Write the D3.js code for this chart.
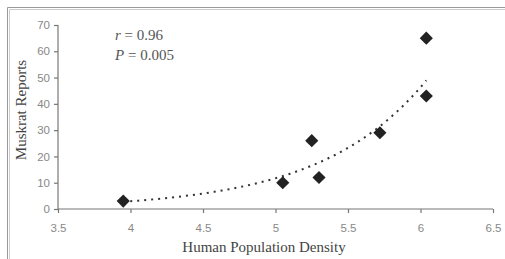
<!DOCTYPE html>
<html>
<head>
<meta charset="utf-8">
<script src="https://cdn.jsdelivr.net/npm/d3@7"></script>
<style>
  body { margin: 0; background: #fff; }
  svg { display: block; }
</style>
</head>
<body>
<div id="chart"></div>
<script>
// data
var density = [3.95, 5.05, 5.25, 5.3, 5.72, 6.04, 6.04];
var reports = [3, 10, 26, 12, 29, 65, 43];
var xTicks = [3.5, 4, 4.5, 5, 5.5, 6, 6.5];
var yTicks = [0, 10, 20, 30, 40, 50, 60, 70];

function init() {
    var w = 505;
    var h = 259;

    var svg = d3.select("#chart")
        .append("svg")
        .attr("width", w)
        .attr("height", h);

    // outer frame (double grey line on top and left)
    svg.append("path")
        .attr("d", "M7.5," + h + "V7.5H" + w)
        .attr("fill", "none")
        .attr("stroke", "#999");
    svg.append("path")
        .attr("d", "M9.5," + h + "V9.5H" + w)
        .attr("fill", "none")
        .attr("stroke", "#ccc");

    var xScale = d3.scaleLinear().domain([3.5, 6.5]).range([58, 493]);
    var yScale = d3.scaleLinear().domain([0, 70]).range([209, 25]);

    var data = density.map(function(d, i) { return { x: d, y: reports[i] }; });

    // axes
    var xAxis = d3.axisBottom(xScale).tickValues(xTicks).tickSize(4).tickFormat(d3.format(""));
    var gx = svg.append("g")
        .attr("transform", "translate(0," + yScale(0) + ")")
        .call(xAxis);

    var yAxis = d3.axisLeft(yScale).tickValues(yTicks).tickSize(4);
    var gy = svg.append("g")
        .attr("transform", "translate(" + xScale(3.5) + ",0)")
        .call(yAxis);

    [gx, gy].forEach(function(g) {
        g.selectAll("path, line").attr("stroke", "#777").attr("stroke-width", 1.2);
        g.selectAll("text")
            .attr("fill", "#888")
            .style("font-family", "Liberation Sans, Arial, sans-serif")
            .style("font-size", "11.5px");
    });
    gx.select(".domain").attr("d", "M" + xScale(3.5) + ",0H" + xScale(6.5));
    gx.selectAll("text").attr("dy", "1.4em");
    gy.select(".domain").attr("d", "M0," + yScale(0) + "V" + yScale(70));
    gy.selectAll("text").attr("x", -8);

    // exponential trendline (least squares on ln y, like Excel)
    var mx = d3.mean(density);
    var my = d3.mean(reports, function(d) { return Math.log(d); });
    var sxy = d3.sum(data, function(d) { return (d.x - mx) * (Math.log(d.y) - my); });
    var sxx = d3.sum(data, function(d) { return (d.x - mx) * (d.x - mx); });
    var b = sxy / sxx;
    var a = my - b * mx;
    var fit = d3.range(0, 41).map(function(i) {
        var x = d3.min(density) + (d3.max(density) - d3.min(density)) * i / 40;
        return { x: x, y: Math.exp(a + b * x) };
    });

    var line = d3.line()
        .x(function(d) { return xScale(d.x); })
        .y(function(d) { return yScale(d.y); });

    svg.append("path")
        .datum(fit)
        .attr("d", line)
        .attr("fill", "none")
        .attr("stroke", "#333")
        .attr("stroke-width", 2)
        .attr("stroke-dasharray", "2 5");

    // markers
    svg.selectAll(".pt")
        .data(data)
        .enter()
        .append("path")
        .attr("class", "pt")
        .attr("d", d3.symbol().type(d3.symbolDiamond2).size(110))
        .attr("transform", function(d) { return "translate(" + xScale(d.x) + "," + yScale(d.y) + ")"; })
        .attr("fill", "#222");

    // stats labels
    var stats = svg.append("text")
        .attr("fill", "#555")
        .style("font-family", "Liberation Serif, Times New Roman, serif")
        .style("font-size", "15px");
    var t1 = stats.append("tspan").attr("x", 115).attr("y", 40);
    t1.append("tspan").style("font-style", "italic").text("r");
    t1.append("tspan").text(" = 0.96");
    var t2 = stats.append("tspan").attr("x", 115).attr("y", 60);
    t2.append("tspan").style("font-style", "italic").text("P");
    t2.append("tspan").text(" = 0.005");

    // axis titles
    svg.append("text")
        .attr("x", 264)
        .attr("y", 252)
        .attr("text-anchor", "middle")
        .attr("fill", "#444")
        .style("font-family", "Liberation Serif, Times New Roman, serif")
        .style("font-size", "15px")
        .text("Human Population Density");

    svg.append("text")
        .attr("transform", "translate(26,110) rotate(-90)")
        .attr("text-anchor", "middle")
        .attr("fill", "#444")
        .style("font-family", "Liberation Serif, Times New Roman, serif")
        .style("font-size", "15px")
        .text("Muskrat Reports");
}

window.onload = init;
</script>
</body>
</html>
